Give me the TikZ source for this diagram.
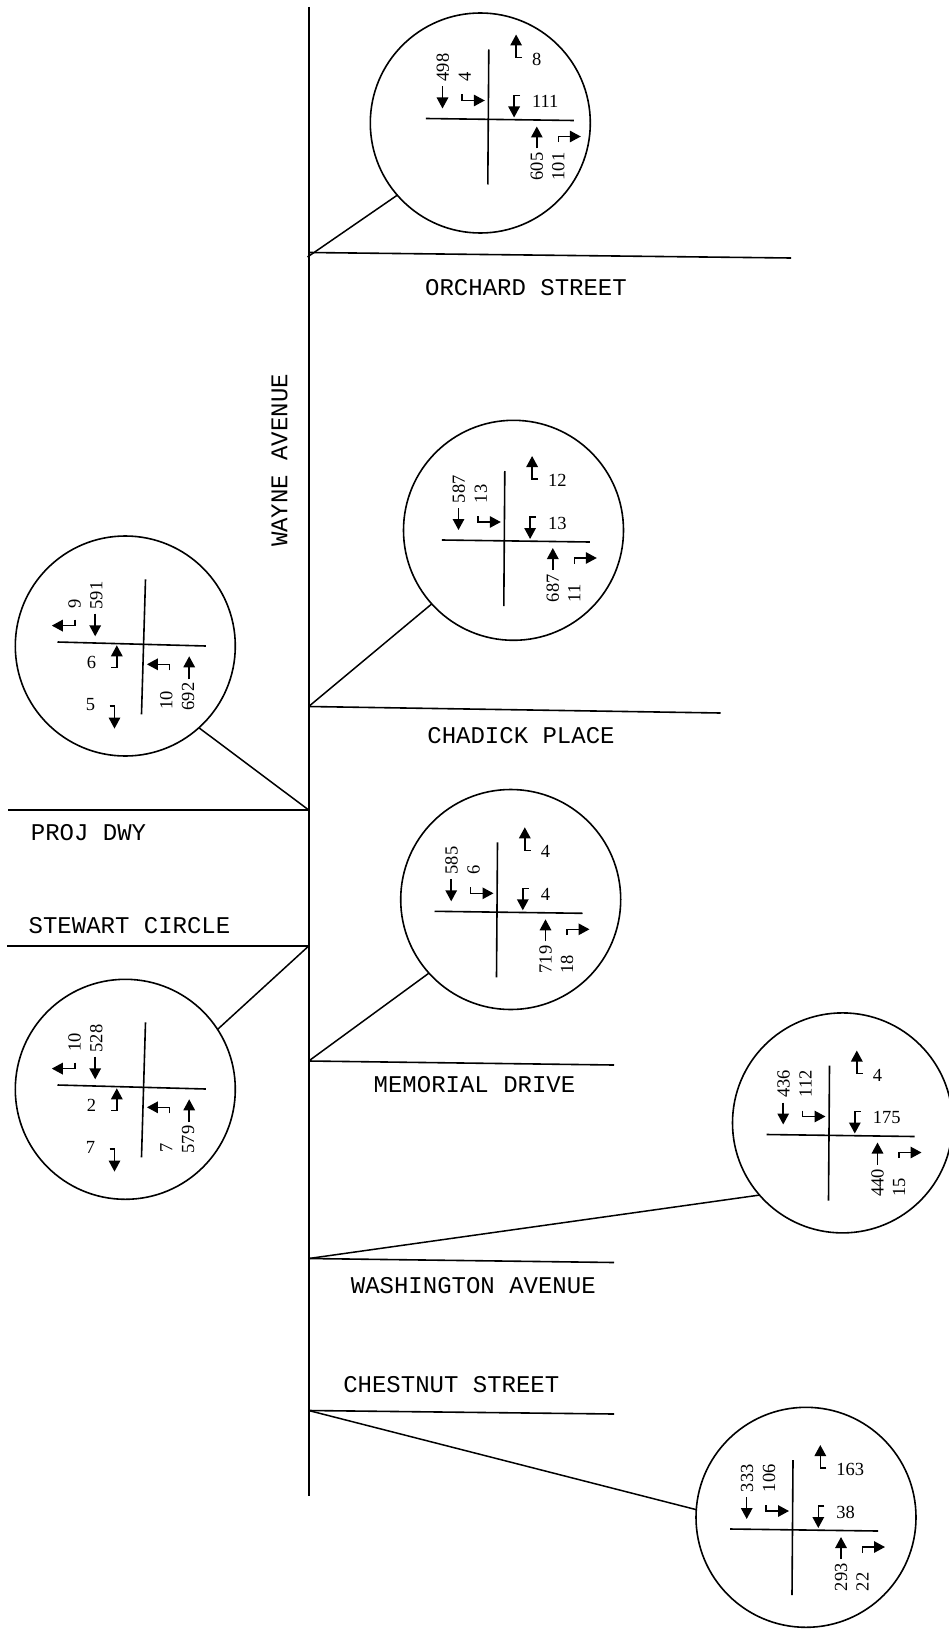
\documentclass[tikz,border=0pt]{standalone}
\usepackage{fontspec}
\setmainfont{Liberation Serif}
\newfontfamily\cadfont{Liberation Mono}
\usetikzlibrary{arrows.meta}
\tikzset{
  road/.style={line width=1.6pt},
  lead/.style={line width=1.5pt},
  bubble/.style={circle,draw,line width=1.6pt,minimum size=220pt,inner sep=0pt,outer sep=0pt},
  cross/.style={line width=1.6pt},
  mv/.style={line width=1.5pt,-{Triangle[length=11pt,width=11.5pt]}},
  cnt/.style={inner sep=0pt,outer sep=0pt,font=\fontsize{18.5}{19}\selectfont},
  cntup/.style={cnt,rotate=90,anchor=west},
  cntr/.style={cnt,anchor=west},
  roadname/.style={inner sep=0pt,outer sep=0pt,font=\cadfont\fontsize{24}{24}\selectfont},
}
\newcommand{\junctionA}[8]{%
 \begin{scope}[shift={(#2)}]
  \coordinate (#1n) at (0,-70); \coordinate (#1s) at (-1,65);
  \coordinate (#1w) at (-63,-1); \coordinate (#1e) at (85,1);
  \draw[cross] (#1n) -- (#1s);
  \draw[cross] (#1w) -- (#1e);
  \draw[mv] (-46.3,-33) -- (-46.3,-11);
  \draw[mv] (-27,-25) -- (-27,-19) -- (-4,-19);
  \draw[mv] (33.3,-62) -- (27.3,-62) -- (27.3,-85);
  \draw[mv] (31.3,-24) -- (25.3,-24) -- (25.3,-2);
  \draw[mv] (48,29) -- (48,7);
  \draw[mv] (69.5,22.7) -- (69.5,17) -- (92,17);
  \node[cntup] (#1a) at (-46,-38) {#3};
  \node[cntup] (#1b) at (-24,-38) {#4};
  \node[cntr] (#1c) at (43.3,-60.5) {#5};
  \node[cntr] (#1d) at (43.3,-18) {#6};
  \node[cntup] (#1f) at (48,61) {#7};
  \node[cntup] (#1g) at (69.5,61) {#8};
 \end{scope}}
\newcommand{\junctionB}[8]{%
 \begin{scope}[shift={(#2)}]
  \coordinate (#1n) at (2,-65); \coordinate (#1s) at (-2,70);
  \coordinate (#1w) at (-86,-2.3); \coordinate (#1e) at (62.4,1.7);
  \draw[cross] (#1n) -- (#1s);
  \draw[cross] (#1w) -- (#1e);
  \draw[mv] (-68.3,-24.7) -- (-68.3,-18.7) -- (-91.7,-18.7);
  \draw[mv] (-48.3,-30.7) -- (-48.3,-8);
  \draw[mv] (-32.3,23.3) -- (-26.7,23.3) -- (-26.7,1);
  \draw[mv] (-34,61.5) -- (-29,61.5) -- (-29,84.3);
  \draw[mv] (26,26) -- (26,20) -- (3.4,20);
  \draw[mv] (45.7,35) -- (45.7,12);
  \node[cntup] (#1a) at (-69,-35.5) {#3};
  \node[cntup] (#1b) at (-47.2,-35) {#4};
  \node[cnt] (#1c) at (-52,18) {#5};
  \node[cnt] (#1d) at (-53,60) {#6};
  \node[cntup] (#1f) at (22.7,65.5) {#7};
  \node[cntup] (#1g) at (44.5,66) {#8};
 \end{scope}}
\begin{document}
\begin{tikzpicture}[x=1pt,y=-1pt]
\useasboundingbox (0,0) rectangle (948,1629);
\fill[white] (0,0) rectangle (948,1629);
% main road
\coordinate (mainN) at (308.7,7);
\coordinate (mainS) at (308.7,1495.5);
\draw[road] (mainN) -- (mainS);
\node[roadname,rotate=90] (wayne) at (279.5,460.5) {WAYNE AVENUE};
% junction points on the main road
\coordinate (jOrchard) at (308.7,252.5);
\coordinate (jOrchardLead) at (307.5,257);
\coordinate (jChadick) at (308.7,706.5);
\coordinate (jProj) at (308.7,810);
\coordinate (jStewart) at (308.7,946);
\coordinate (jMemorial) at (308.7,1061);
\coordinate (jWash) at (308.7,1258.5);
\coordinate (jChest) at (308.7,1410.5);
% side road ends
\coordinate (eOrchard) at (791,258);
\coordinate (eChadick) at (720.5,713);
\coordinate (eProj) at (7.5,810);
\coordinate (eStewart) at (7,946);
\coordinate (eMemorial) at (614,1065);
\coordinate (eWash) at (614,1262.5);
\coordinate (eChest) at (614,1414);
\foreach \r in {Orchard,Chadick,Proj,Stewart,Memorial,Wash,Chest}
  \draw[road] (j\r) -- (e\r);
% road names
\node[roadname] (nOrchard) at (526,287.3) {ORCHARD STREET};
\node[roadname] (nChadick) at (521,735.7) {CHADICK PLACE};
\node[roadname] (nProj) at (88.5,832.7) {PROJ DWY};
\node[roadname] (nStewart) at (129.5,926) {STEWART CIRCLE};
\node[roadname] (nMemorial) at (474.5,1085) {MEMORIAL DRIVE};
\node[roadname] (nWash) at (473.3,1285.7) {WASHINGTON AVENUE};
\node[roadname] (nChest) at (451.3,1384.7) {CHESTNUT STREET};
% bubbles
\node[bubble] (c1) at (480.3,123) {};
\node[bubble] (c2) at (513.5,530.3) {};
\node[bubble] (c3) at (125.3,646) {};
\node[bubble] (c4) at (125.3,1089.3) {};
\node[bubble] (c5) at (510.7,899.5) {};
\node[bubble] (c6) at (842.5,1122.9) {};
\node[bubble] (c7) at (806,1517.3) {};
% leaders
\draw[lead] (c1.221.5) -- (jOrchardLead);
\draw[lead] (c2.222.2) -- (jChadick);
\draw[lead] (c3.312.6) -- (jProj);
\draw[lead] (c4.33.7) -- (jStewart);
\draw[lead] (c5.222) -- (jMemorial);
\draw[lead] (c6.221.5) -- (jWash);
\draw[lead] (c7.176.9) -- (jChest);
% movements
\junctionA{p}{488.8,119.5}{498}{4}{8}{111}{605}{101}
\junctionA{q}{504.8,541}{587}{13}{12}{13}{687}{11}
\junctionB{r}{143.5,644.3}{9}{591}{6}{5}{10}{692}
\junctionB{s}{143.5,1087.3}{10}{528}{2}{7}{7}{579}
\junctionA{t}{497.5,912.3}{585}{6}{4}{4}{719}{18}
\junctionA{u}{829.5,1135.5}{436}{112}{4}{175}{440}{15}
\junctionA{v}{793,1530}{333}{106}{163}{38}{293}{22}
\end{tikzpicture}
\end{document}
